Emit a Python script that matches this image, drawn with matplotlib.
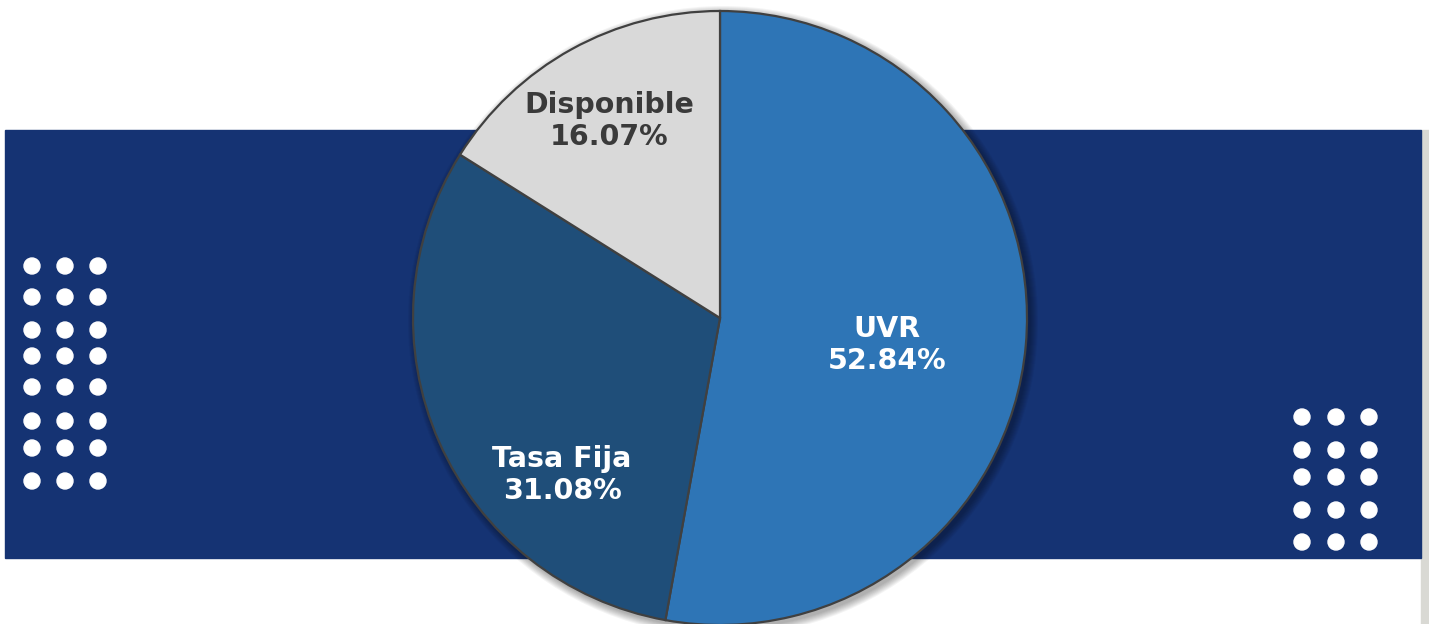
import matplotlib
matplotlib.use("Agg")
import matplotlib.pyplot as plt
from matplotlib.patches import Rectangle, Circle

# data
labels = ['UVR', 'Tasa Fija', 'Disponible']
shares = [52.84, 31.08, 16.07]
colors = ['#2E75B6', '#1F4E79', '#D9D9D9']
text_colors = ['white', 'white', '#3A3A3A']
label_pos = [(887, 279), (562, 149), (609, 503)]  # pixel coords, y up

W, H = 1429, 624
fig = plt.figure(figsize=(W / 100, H / 100), dpi=100)
ax = fig.add_axes([0, 0, 1, 1])

# background band + right edge strip
ax.add_patch(Rectangle((1421, 0), 8, H - 130, color='#D9D9D4', zorder=0))
ax.add_patch(Rectangle((5, H - 558), 1416, 428, color='#153373', zorder=1))

# decorative dots
left_x = [32, 65, 98]
left_y = [266, 297, 330, 356, 387, 421, 448, 481]
right_x = [1302, 1336, 1369]
right_y = [417, 450, 477, 510, 542]
for xs, ys in ((left_x, left_y), (right_x, right_y)):
    for y in ys:
        for x in xs:
            ax.add_patch(Circle((x, H - y), 8, color='white', zorder=2))

cx, cy, r = 720, H - 318, 307

# soft shadow
for i in range(8):
    ax.add_patch(Circle((cx + 3, cy - 3), r + 1 + i * 1.0, color='black',
                        alpha=0.045, lw=0, zorder=3))

wedges, _ = ax.pie(shares, colors=colors, startangle=90, counterclock=False,
                   center=(cx, cy), radius=r,
                   wedgeprops=dict(edgecolor='#404040', linewidth=1.6))
for w in wedges:
    w.set_zorder(4)

for lab, val, (x, y), tc in zip(labels, shares, label_pos, text_colors):
    ax.text(x, y, f'{lab}\n{val:.2f}%', ha='center', va='center',
            fontsize=20.5, fontweight='bold', color=tc, linespacing=1.2,
            zorder=5)

ax.set_xlim(0, W)
ax.set_ylim(0, H)
ax.set_aspect('equal')
ax.axis('off')

fig.savefig('out.png', dpi=100, facecolor='white')
